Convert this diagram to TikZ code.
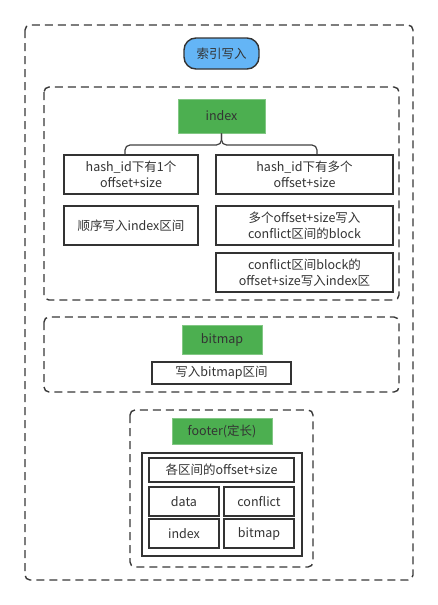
\documentclass[tikz,border=0pt]{standalone}
\usepackage{fontspec}
\setmainfont{Noto Sans CJK SC}
\begin{document}
\begin{tikzpicture}[x=1pt,y=-1pt,
  dbox/.style={draw=black!78,line width=1.4pt,dash pattern=on 8pt off 5pt,rounded corners=5pt},
  gbox/.style={fill=gfill,draw=gfill!70!white,line width=0.5pt,text=black!80,font=\fontsize{12.5}{15.5}\selectfont},
  wbox/.style={draw=black!80,line width=1.6pt,fill=white,text=black!80,align=center,font=\fontsize{12.5}{15.5}\selectfont},
  brace/.style={draw=black!75,line width=1.2pt,rounded corners=5pt}]
\useasboundingbox (0,0) rectangle (438,605);
\definecolor{gfill}{HTML}{4CAF50}
\definecolor{pill}{HTML}{64B5F6}
% dashed containers
\path[dbox] (25,25) rectangle (413,580);
\path[dbox] (44,87) rectangle (399,300);
\path[dbox] (44,317) rectangle (399,392);
\path[dbox] (130,410) rectangle (313,567);
% title pill
\node[draw=black!80,line width=1.4pt,fill=pill,rounded corners=12pt,minimum width=75pt,minimum height=31pt,text=black!80,font=\fontsize{12.5}{15}\selectfont] (title) at (221.5,53.5) {索引写入};
% index section
\node[gbox,minimum width=87pt,minimum height=34pt] (idx) at (221.5,116) {index};
\node[wbox,minimum width=134pt,minimum height=39pt] (h1) at (131,174.5) {hash\_id下有1个\\offset+size};
\node[wbox,minimum width=177pt,minimum height=39pt] (hm) at (304.5,174.5) {hash\_id下有多个\\offset+size};
\node[wbox,minimum width=134pt,minimum height=39pt] (seq) at (131,225.5) {顺序写入index区间};
\node[wbox,minimum width=177pt,minimum height=39pt] (mul) at (304.5,225.5) {多个offset+size写入\\conflict区间的block};
\node[wbox,minimum width=177pt,minimum height=39pt] (cfl) at (304.5,272.5) {conflict区间block的\\offset+size写入index区};
\coordinate (bt) at (idx.south);
\path[brace] (h1.north -| 125,0) |- (221.5,145) -- (bt);
\path[brace] (hm.north -| 317,0) |- (221.5,145) -- (bt);
% bitmap section
\node[gbox,minimum width=80pt,minimum height=29pt] (bm) at (222,339.5) {bitmap};
\node[wbox,minimum width=139pt,minimum height=22pt,inner sep=0pt] (wbm) at (221.5,373) {写入bitmap区间};
% footer section
\node[gbox,minimum width=100pt,minimum height=26pt] (ft) at (222,431) {footer(定长)};
\node[draw=black!80,line width=1.6pt,minimum width=160pt,minimum height=103pt] (fo) at (222,504.5) {};
\node[wbox,minimum width=145pt,minimum height=24pt,inner sep=0pt] (all) at (221.5,470) {各区间的offset+size};
\node[wbox,minimum width=70pt,minimum height=29pt,inner sep=0pt] (fd) at (184,501.5) {data};
\node[wbox,minimum width=70pt,minimum height=29pt,inner sep=0pt] (fc) at (259,501.5) {conflict};
\node[wbox,minimum width=70pt,minimum height=29pt,inner sep=0pt] (fi) at (184,533.5) {index};
\node[wbox,minimum width=70pt,minimum height=29pt,inner sep=0pt] (fb) at (259,533.5) {bitmap};
\end{tikzpicture}
\end{document}
